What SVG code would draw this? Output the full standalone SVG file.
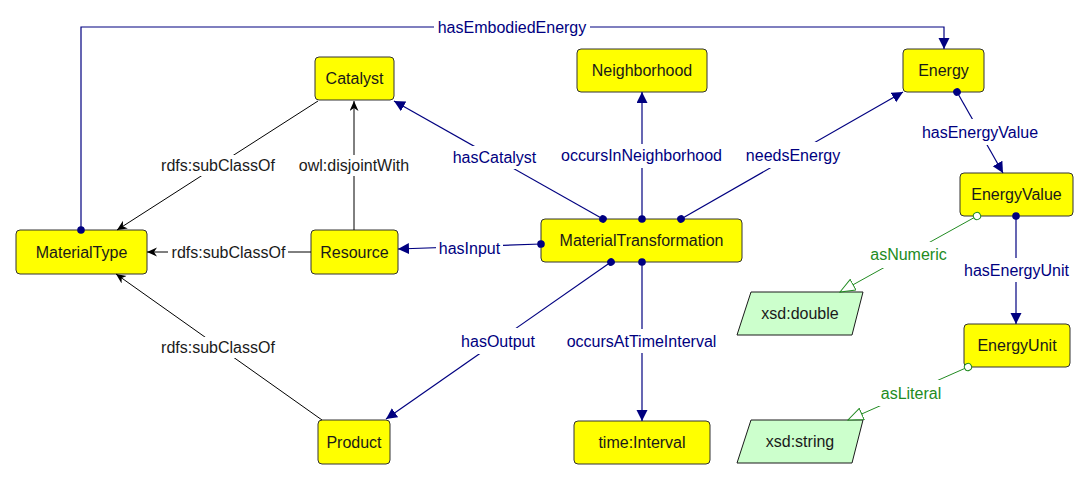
<svg xmlns="http://www.w3.org/2000/svg" width="1089" height="480" viewBox="0 0 1089 480">
<style>
  text { font-family: "Liberation Sans", Arial, sans-serif; font-size: 16px; text-anchor: middle; }
  .cls rect { fill: #ffff00; stroke: #333333; stroke-width: 1; }
  .cls text { fill: #1a1a1a; }
  .lit polygon { fill: #ccffcc; stroke: #1a1a1a; stroke-width: 1; }
  .lit text { fill: #1a1a1a; }
  .e { fill: none; stroke: #000080; stroke-width: 1.2; }
  .s { fill: none; stroke: #000000; stroke-width: 1; }
  .g { fill: none; stroke: #228b22; stroke-width: 1; }
  .bg { fill: #ffffff; stroke: none; }
  .ln { fill: #000080; }
  .ls { fill: #1a1a1a; }
  .lg { fill: #228b22; }
</style>
<defs>
  <marker id="arrN" markerUnits="userSpaceOnUse" markerWidth="12" markerHeight="12" refX="11" refY="5.5" orient="auto">
    <path d="M0,0 L11,5.5 L0,11 z" fill="#000080"/>
  </marker>
  <marker id="arrB" markerUnits="userSpaceOnUse" markerWidth="12" markerHeight="10" refX="10" refY="4.5" orient="auto">
    <path d="M0,0 L10,4.5 L0,9 L3,4.5 z" fill="#000000"/>
  </marker>
  <marker id="arrG" markerUnits="userSpaceOnUse" markerWidth="17" markerHeight="14" refX="15.5" refY="6.5" orient="auto">
    <path d="M0.5,0.5 L15.5,6.5 L0.5,12.5 z" fill="#ffffff" stroke="#228b22" stroke-width="1"/>
  </marker>
  <marker id="dotN" markerUnits="userSpaceOnUse" markerWidth="10" markerHeight="10" refX="5" refY="5" orient="auto">
    <circle cx="5" cy="5" r="3.8" fill="#000080"/>
  </marker>
  <marker id="dotG" markerUnits="userSpaceOnUse" markerWidth="10" markerHeight="10" refX="5" refY="5" orient="auto">
    <circle cx="5" cy="5" r="3.6" fill="#ffffff" stroke="#228b22" stroke-width="1"/>
  </marker>
</defs>
<rect width="1089" height="480" fill="#ffffff"/>

<g id="Catalyst" class="cls"><rect x="315" y="57" width="79" height="43" rx="4"/><text x="354.5" y="84">Catalyst</text></g>
<g id="MaterialType" class="cls"><rect x="16" y="230" width="131" height="44" rx="4"/><text x="81.5" y="258">MaterialType</text></g>
<g id="Resource" class="cls"><rect x="311" y="230" width="87" height="44" rx="4"/><text x="354.5" y="258">Resource</text></g>
<g id="Neighborhood" class="cls"><rect x="577" y="49" width="130" height="43" rx="4"/><text x="642" y="76">Neighborhood</text></g>
<g id="MaterialTransformation" class="cls"><rect x="541" y="219" width="201" height="43" rx="4"/><text x="641.5" y="246">MaterialTransformation</text></g>
<g id="Energy" class="cls"><rect x="903" y="49" width="81" height="43" rx="4"/><text x="943.5" y="76">Energy</text></g>
<g id="EnergyValue" class="cls"><rect x="960" y="173" width="113" height="43" rx="4"/><text x="1016.5" y="200">EnergyValue</text></g>
<g id="EnergyUnit" class="cls"><rect x="964" y="324" width="106" height="43" rx="4"/><text x="1017" y="351">EnergyUnit</text></g>
<g id="Product" class="cls"><rect x="318" y="420" width="72" height="44" rx="4"/><text x="354" y="448">Product</text></g>
<g id="timeInterval" class="cls"><rect x="574" y="421" width="136" height="43" rx="4"/><text x="642" y="448">time:Interval</text></g>
<g id="xsdDouble" class="lit"><polygon points="751,292 863,292 852,335 737,335"/><text x="800" y="319">xsd:double</text></g>
<g id="xsdString" class="lit"><polygon points="751,420 863,420 852,463 737,463"/><text x="800" y="447">xsd:string</text></g>

<g id="connectors">
  <!-- hasEmbodiedEnergy -->
  <path class="e" d="M81,230 L81,27 L944,27 L944,49" marker-start="url(#dotN)" marker-end="url(#arrN)"/>
  <rect class="bg" x="434" y="18" width="156" height="20"/>
  <text class="ln" x="512" y="33">hasEmbodiedEnergy</text>

  <!-- Catalyst subClassOf MaterialType -->
  <path class="s" d="M318,101 L117,230" marker-end="url(#arrB)"/>
  <rect class="bg" x="158" y="155" width="120" height="21"/>
  <text class="ls" x="218" y="171">rdfs:subClassOf</text>

  <!-- owl:disjointWith -->
  <path class="s" d="M354,230 L354,101" marker-end="url(#arrB)"/>
  <rect class="bg" x="297" y="155" width="115" height="21"/>
  <text class="ls" x="354" y="171">owl:disjointWith</text>

  <!-- Resource subClassOf MaterialType -->
  <path class="s" d="M311,252 L147,252" marker-end="url(#arrB)"/>
  <rect class="bg" x="168" y="243" width="120" height="18"/>
  <text class="ls" x="228.5" y="258">rdfs:subClassOf</text>

  <!-- Product subClassOf MaterialType -->
  <path class="s" d="M322,420 L116,274" marker-end="url(#arrB)"/>
  <rect class="bg" x="158" y="337" width="120" height="21"/>
  <text class="ls" x="218" y="353">rdfs:subClassOf</text>

  <!-- hasCatalyst -->
  <path class="e" d="M603,219 L394,101" marker-start="url(#dotN)" marker-end="url(#arrN)"/>
  <rect class="bg" x="450" y="146" width="89" height="23"/>
  <text class="ln" x="494.5" y="163">hasCatalyst</text>

  <!-- occursInNeighborhood -->
  <path class="e" d="M642,219 L642,92" marker-start="url(#dotN)" marker-end="url(#arrN)"/>
  <rect class="bg" x="559" y="144" width="166" height="24"/>
  <text class="ln" x="641.5" y="161">occursInNeighborhood</text>

  <!-- needsEnergy -->
  <path class="e" d="M681,219 L903,92" marker-start="url(#dotN)" marker-end="url(#arrN)"/>
  <rect class="bg" x="743" y="142" width="101" height="26"/>
  <text class="ln" x="793" y="161">needsEnergy</text>

  <!-- hasEnergyValue -->
  <path class="e" d="M957,92 L1003,173" marker-start="url(#dotN)" marker-end="url(#arrN)"/>
  <rect class="bg" x="919" y="119" width="122" height="26"/>
  <text class="ln" x="980" y="138">hasEnergyValue</text>

  <!-- hasEnergyUnit -->
  <path class="e" d="M1016,216 L1016,324" marker-start="url(#dotN)" marker-end="url(#arrN)"/>
  <rect class="bg" x="961" y="258" width="111" height="24"/>
  <text class="ln" x="1016.5" y="276">hasEnergyUnit</text>

  <!-- hasInput -->
  <path class="e" d="M541,244 L398,249" marker-start="url(#dotN)" marker-end="url(#arrN)"/>
  <rect class="bg" x="436" y="238" width="67" height="22"/>
  <text class="ln" x="469.5" y="254">hasInput</text>

  <!-- hasOutput -->
  <path class="e" d="M611,262 L386,419" marker-start="url(#dotN)" marker-end="url(#arrN)"/>
  <rect class="bg" x="458" y="328" width="80" height="26"/>
  <text class="ln" x="498" y="347">hasOutput</text>

  <!-- occursAtTimeInterval -->
  <path class="e" d="M642,262 L642,421" marker-start="url(#dotN)" marker-end="url(#arrN)"/>
  <rect class="bg" x="564" y="329" width="155" height="24"/>
  <text class="ln" x="641.5" y="347">occursAtTimeInterval</text>

  <!-- asNumeric -->
  <path class="g" d="M977,216 L840,292" marker-start="url(#dotG)" marker-end="url(#arrG)"/>
  <rect class="bg" x="867" y="242" width="83" height="26"/>
  <text class="lg" x="908.5" y="260">asNumeric</text>

  <!-- asLiteral -->
  <path class="g" d="M968,367 L848,420" marker-start="url(#dotG)" marker-end="url(#arrG)"/>
  <rect class="bg" x="878" y="380" width="66" height="26"/>
  <text class="lg" x="911" y="399">asLiteral</text>
</g>
</svg>
